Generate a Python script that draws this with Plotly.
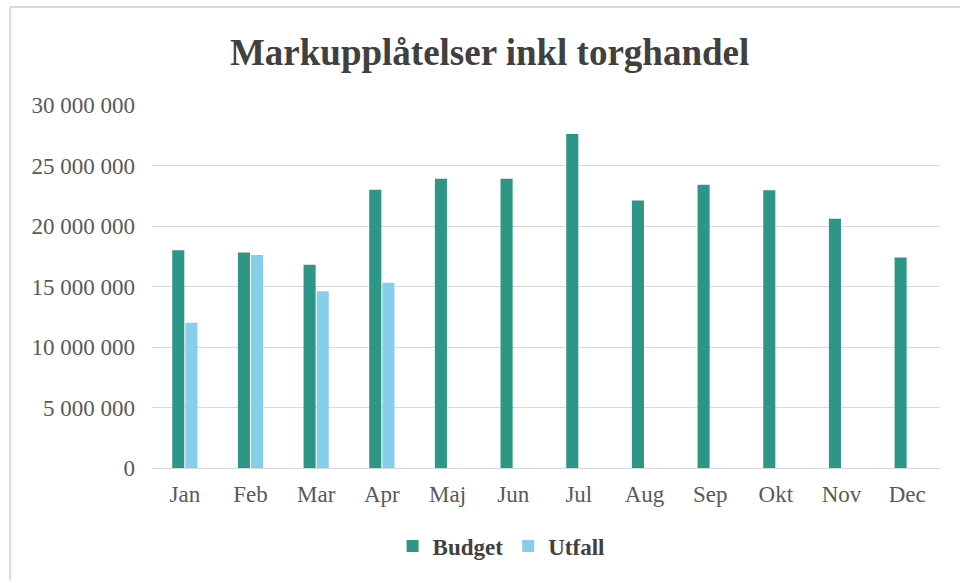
import plotly.graph_objects as go

months = ["Jan", "Feb", "Mar", "Apr", "Maj", "Jun", "Jul", "Aug", "Sep", "Okt", "Nov", "Dec"]
budget = [18.0e6, 17.8e6, 16.8e6, 23.0e6, 23.9e6, 23.9e6, 27.6e6, 22.1e6, 23.4e6, 22.95e6, 20.6e6, 17.4e6]
utfall = [12.0e6, 17.6e6, 14.6e6, 15.3e6, None, None, None, None, None, None, None, None]
y_ticks = [0, 5e6, 10e6, 15e6, 20e6, 25e6, 30e6]
y_tick_labels = ["0", "5 000 000", "10 000 000", "15 000 000", "20 000 000", "25 000 000", "30 000 000"]

serif = "Liberation Serif, Times New Roman, serif"

fig = go.Figure()
fig.add_trace(go.Bar(name="Budget", x=months, y=budget, marker_color="#2E9687",
                     marker_line_width=0))
fig.add_trace(go.Bar(name="Utfall", x=months, y=utfall, marker_color="#87CEEB",
                     marker_line_width=0))

fig.update_layout(
    width=960, height=583,
    margin=dict(l=152, r=20, t=105, b=115),
    paper_bgcolor="white", plot_bgcolor="white",
    barmode="group", bargap=0.6, bargroupgap=0.08,
    title=dict(text="<b>Markupplåtelser inkl torghandel</b>", x=0.51, xanchor="center",
               y=0.91, yanchor="middle",
               font=dict(family=serif, size=37, color="#404040")),
    font=dict(family=serif, size=23, color="#595959"),
    showlegend=True,
    legend=dict(orientation="h", x=0.443, xanchor="center", y=-0.215, yanchor="middle",
                font=dict(family=serif, size=23, color="#404040", weight="bold"),
                itemwidth=30, traceorder="normal"),
    xaxis=dict(showgrid=False, showline=True, linecolor="#D9D9D9", linewidth=1,
               ticks="", ticklabelstandoff=5, tickfont=dict(size=23, color="#595959")),
    yaxis=dict(range=[0, 30e6], tickvals=y_ticks, ticktext=y_tick_labels,
               showgrid=True, gridcolor="#D9D9D9", gridwidth=1, zeroline=False,
               showline=False, ticks="", ticklabelstandoff=16,
               tickfont=dict(size=23, color="#595959")),
    shapes=[
        dict(type="line", xref="paper", yref="paper", x0=-0.180, x1=1.03, y0=1.27, y1=1.27,
             line=dict(color="#D9D9D9", width=2)),
        dict(type="line", xref="paper", yref="paper", x0=-0.180, x1=-0.180, y0=1.27, y1=-0.31,
             line=dict(color="#D9D9D9", width=2)),
    ],
)
fig.write_html("out.html")
